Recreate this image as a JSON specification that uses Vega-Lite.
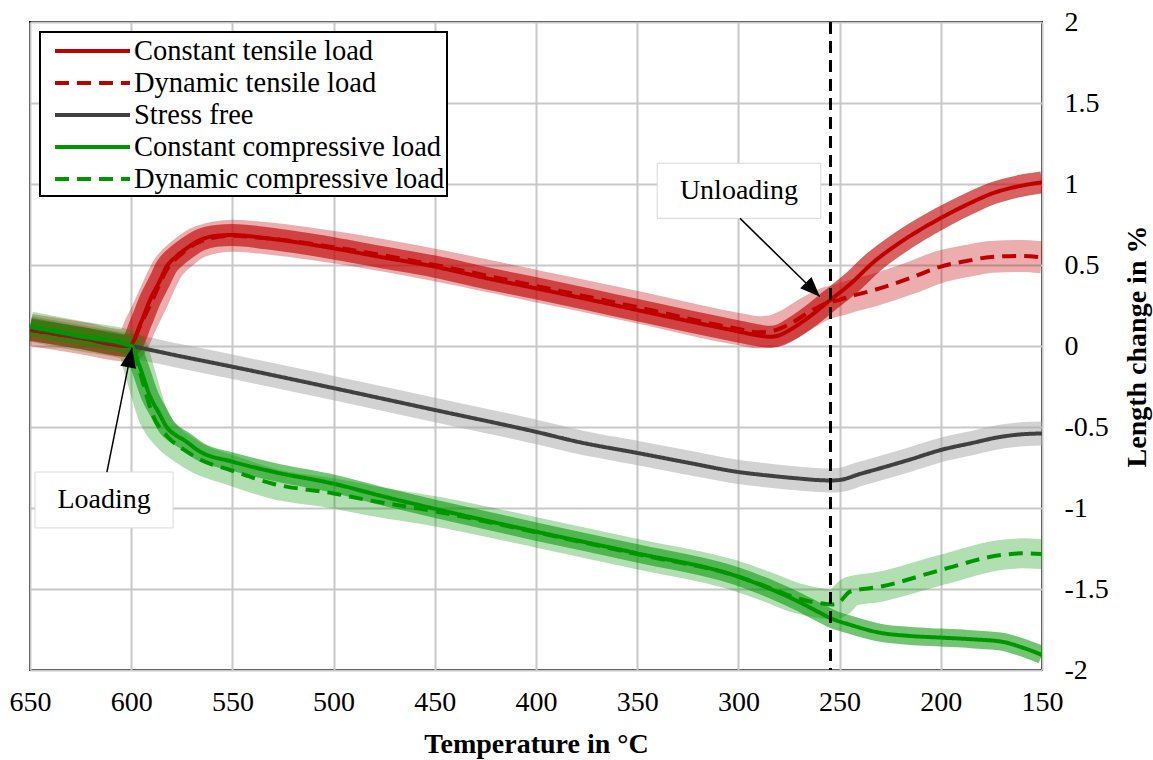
{
  "$schema": "https://vega.github.io/schema/vega-lite/v6.json",
  "width": 1012,
  "height": 648,
  "autosize": {"type": "none"},
  "padding": {"left": 30, "top": 22, "right": 111, "bottom": 90},
  "background": "white",
  "config": {
    "view": {"stroke": "black", "strokeWidth": 2},
    "font": "Liberation Serif, Times New Roman, serif",
    "axis": {"grid": true, "gridColor": "#c8c8c8", "gridWidth": 2, "domain": false, "ticks": false, "labelFlush": false, "labelOverlap": false,
      "labelFont": "Liberation Serif, Times New Roman, serif", "labelFontSize": 28, "labelColor": "black",
      "titleFont": "Liberation Serif, Times New Roman, serif", "titleFontSize": 28, "titleFontWeight": "bold", "titleColor": "black"},
    "legend": {"orient": "none", "legendX": 10, "legendY": 10, "symbolType": "M-0.267,0 L4.733,0", "symbolSize": 900,
      "symbolStrokeWidth": 4, "labelFont": "Liberation Serif, Times New Roman, serif", "labelFontSize": 28.5, "labelColor": "black",
      "labelOffset": 58, "labelLimit": 600, "rowPadding": 0, "padding": 2, "strokeColor": "black", "strokeWidth": 2, "fillColor": "white"}
  },
  "datasets": {
    "curves": [
      {"s": "Constant tensile load", "T": 650, "v": 0.10},
      {"s": "Constant tensile load", "T": 625, "v": 0.05},
      {"s": "Constant tensile load", "T": 601, "v": 0.0},
      {"s": "Constant tensile load", "T": 595, "v": 0.15},
      {"s": "Constant tensile load", "T": 590.7, "v": 0.284},
      {"s": "Constant tensile load", "T": 586, "v": 0.40},
      {"s": "Constant tensile load", "T": 582.5, "v": 0.49},
      {"s": "Constant tensile load", "T": 578, "v": 0.55},
      {"s": "Constant tensile load", "T": 574, "v": 0.59},
      {"s": "Constant tensile load", "T": 566, "v": 0.654},
      {"s": "Constant tensile load", "T": 558, "v": 0.68},
      {"s": "Constant tensile load", "T": 550, "v": 0.685},
      {"s": "Constant tensile load", "T": 533, "v": 0.665},
      {"s": "Constant tensile load", "T": 500, "v": 0.603},
      {"s": "Constant tensile load", "T": 477, "v": 0.55},
      {"s": "Constant tensile load", "T": 450, "v": 0.49},
      {"s": "Constant tensile load", "T": 425, "v": 0.42},
      {"s": "Constant tensile load", "T": 400, "v": 0.356},
      {"s": "Constant tensile load", "T": 375, "v": 0.29},
      {"s": "Constant tensile load", "T": 350, "v": 0.222},
      {"s": "Constant tensile load", "T": 325, "v": 0.155},
      {"s": "Constant tensile load", "T": 300, "v": 0.09},
      {"s": "Constant tensile load", "T": 290, "v": 0.065},
      {"s": "Constant tensile load", "T": 284, "v": 0.057},
      {"s": "Constant tensile load", "T": 279, "v": 0.07},
      {"s": "Constant tensile load", "T": 274.5, "v": 0.10},
      {"s": "Constant tensile load", "T": 265, "v": 0.18},
      {"s": "Constant tensile load", "T": 255, "v": 0.28},
      {"s": "Constant tensile load", "T": 245, "v": 0.38},
      {"s": "Constant tensile load", "T": 233, "v": 0.52},
      {"s": "Constant tensile load", "T": 220, "v": 0.64},
      {"s": "Constant tensile load", "T": 200, "v": 0.79},
      {"s": "Constant tensile load", "T": 185, "v": 0.885},
      {"s": "Constant tensile load", "T": 175, "v": 0.94},
      {"s": "Constant tensile load", "T": 160, "v": 0.99},
      {"s": "Constant tensile load", "T": 150, "v": 1.01},

      {"s": "Dynamic tensile load", "T": 650, "v": 0.10},
      {"s": "Dynamic tensile load", "T": 625, "v": 0.05},
      {"s": "Dynamic tensile load", "T": 601, "v": 0.0},
      {"s": "Dynamic tensile load", "T": 595, "v": 0.14},
      {"s": "Dynamic tensile load", "T": 590, "v": 0.27},
      {"s": "Dynamic tensile load", "T": 582, "v": 0.48},
      {"s": "Dynamic tensile load", "T": 574, "v": 0.58},
      {"s": "Dynamic tensile load", "T": 566, "v": 0.645},
      {"s": "Dynamic tensile load", "T": 550, "v": 0.68},
      {"s": "Dynamic tensile load", "T": 533, "v": 0.665},
      {"s": "Dynamic tensile load", "T": 500, "v": 0.61},
      {"s": "Dynamic tensile load", "T": 450, "v": 0.50},
      {"s": "Dynamic tensile load", "T": 400, "v": 0.37},
      {"s": "Dynamic tensile load", "T": 350, "v": 0.24},
      {"s": "Dynamic tensile load", "T": 300, "v": 0.105},
      {"s": "Dynamic tensile load", "T": 290, "v": 0.085},
      {"s": "Dynamic tensile load", "T": 284, "v": 0.09},
      {"s": "Dynamic tensile load", "T": 279, "v": 0.11},
      {"s": "Dynamic tensile load", "T": 274, "v": 0.14},
      {"s": "Dynamic tensile load", "T": 265, "v": 0.21},
      {"s": "Dynamic tensile load", "T": 259, "v": 0.25},
      {"s": "Dynamic tensile load", "T": 255, "v": 0.27},
      {"s": "Dynamic tensile load", "T": 250, "v": 0.285},
      {"s": "Dynamic tensile load", "T": 245, "v": 0.305},
      {"s": "Dynamic tensile load", "T": 233, "v": 0.345},
      {"s": "Dynamic tensile load", "T": 215, "v": 0.42},
      {"s": "Dynamic tensile load", "T": 200, "v": 0.49},
      {"s": "Dynamic tensile load", "T": 185, "v": 0.53},
      {"s": "Dynamic tensile load", "T": 175, "v": 0.55},
      {"s": "Dynamic tensile load", "T": 160, "v": 0.556},
      {"s": "Dynamic tensile load", "T": 150, "v": 0.547},

      {"s": "Stress free", "T": 650, "v": 0.11},
      {"s": "Stress free", "T": 625, "v": 0.055},
      {"s": "Stress free", "T": 600, "v": 0.0},
      {"s": "Stress free", "T": 575, "v": -0.065},
      {"s": "Stress free", "T": 550, "v": -0.128},
      {"s": "Stress free", "T": 500, "v": -0.26},
      {"s": "Stress free", "T": 450, "v": -0.395},
      {"s": "Stress free", "T": 400, "v": -0.53},
      {"s": "Stress free", "T": 378, "v": -0.595},
      {"s": "Stress free", "T": 350, "v": -0.66},
      {"s": "Stress free", "T": 325, "v": -0.72},
      {"s": "Stress free", "T": 301, "v": -0.776},
      {"s": "Stress free", "T": 285, "v": -0.80},
      {"s": "Stress free", "T": 271, "v": -0.817},
      {"s": "Stress free", "T": 260, "v": -0.828},
      {"s": "Stress free", "T": 254.5, "v": -0.83},
      {"s": "Stress free", "T": 250, "v": -0.827},
      {"s": "Stress free", "T": 240, "v": -0.79},
      {"s": "Stress free", "T": 230, "v": -0.755},
      {"s": "Stress free", "T": 215, "v": -0.70},
      {"s": "Stress free", "T": 200, "v": -0.642},
      {"s": "Stress free", "T": 185, "v": -0.60},
      {"s": "Stress free", "T": 170, "v": -0.56},
      {"s": "Stress free", "T": 160, "v": -0.545},
      {"s": "Stress free", "T": 150, "v": -0.54},

      {"s": "Constant compressive load", "T": 650, "v": 0.12},
      {"s": "Constant compressive load", "T": 625, "v": 0.06},
      {"s": "Constant compressive load", "T": 600, "v": 0.0},
      {"s": "Constant compressive load", "T": 596, "v": -0.12},
      {"s": "Constant compressive load", "T": 590.7, "v": -0.31},
      {"s": "Constant compressive load", "T": 586, "v": -0.42},
      {"s": "Constant compressive load", "T": 582.5, "v": -0.50},
      {"s": "Constant compressive load", "T": 578, "v": -0.55},
      {"s": "Constant compressive load", "T": 574, "v": -0.58},
      {"s": "Constant compressive load", "T": 566, "v": -0.652},
      {"s": "Constant compressive load", "T": 550, "v": -0.714},
      {"s": "Constant compressive load", "T": 530, "v": -0.776},
      {"s": "Constant compressive load", "T": 500, "v": -0.85},
      {"s": "Constant compressive load", "T": 475, "v": -0.93},
      {"s": "Constant compressive load", "T": 450, "v": -1.005},
      {"s": "Constant compressive load", "T": 400, "v": -1.146},
      {"s": "Constant compressive load", "T": 350, "v": -1.28},
      {"s": "Constant compressive load", "T": 301, "v": -1.42},
      {"s": "Constant compressive load", "T": 283, "v": -1.506},
      {"s": "Constant compressive load", "T": 270, "v": -1.58},
      {"s": "Constant compressive load", "T": 260, "v": -1.645},
      {"s": "Constant compressive load", "T": 254.5, "v": -1.68},
      {"s": "Constant compressive load", "T": 245, "v": -1.72},
      {"s": "Constant compressive load", "T": 230, "v": -1.77},
      {"s": "Constant compressive load", "T": 215, "v": -1.79},
      {"s": "Constant compressive load", "T": 200, "v": -1.80},
      {"s": "Constant compressive load", "T": 185, "v": -1.81},
      {"s": "Constant compressive load", "T": 170, "v": -1.825},
      {"s": "Constant compressive load", "T": 160, "v": -1.86},
      {"s": "Constant compressive load", "T": 150, "v": -1.907},

      {"s": "Dynamic compressive load", "T": 650, "v": 0.12},
      {"s": "Dynamic compressive load", "T": 625, "v": 0.06},
      {"s": "Dynamic compressive load", "T": 600, "v": 0.0},
      {"s": "Dynamic compressive load", "T": 596, "v": -0.15},
      {"s": "Dynamic compressive load", "T": 589, "v": -0.436},
      {"s": "Dynamic compressive load", "T": 582, "v": -0.56},
      {"s": "Dynamic compressive load", "T": 574, "v": -0.64},
      {"s": "Dynamic compressive load", "T": 566, "v": -0.70},
      {"s": "Dynamic compressive load", "T": 550, "v": -0.77},
      {"s": "Dynamic compressive load", "T": 530, "v": -0.85},
      {"s": "Dynamic compressive load", "T": 500, "v": -0.91},
      {"s": "Dynamic compressive load", "T": 483.6, "v": -0.95},
      {"s": "Dynamic compressive load", "T": 450, "v": -1.02},
      {"s": "Dynamic compressive load", "T": 400, "v": -1.15},
      {"s": "Dynamic compressive load", "T": 350, "v": -1.285},
      {"s": "Dynamic compressive load", "T": 301, "v": -1.42},
      {"s": "Dynamic compressive load", "T": 283, "v": -1.50},
      {"s": "Dynamic compressive load", "T": 271, "v": -1.557},
      {"s": "Dynamic compressive load", "T": 258, "v": -1.59},
      {"s": "Dynamic compressive load", "T": 253, "v": -1.595},
      {"s": "Dynamic compressive load", "T": 250, "v": -1.58},
      {"s": "Dynamic compressive load", "T": 247, "v": -1.54},
      {"s": "Dynamic compressive load", "T": 245, "v": -1.517},
      {"s": "Dynamic compressive load", "T": 230, "v": -1.486},
      {"s": "Dynamic compressive load", "T": 200, "v": -1.383},
      {"s": "Dynamic compressive load", "T": 170, "v": -1.29},
      {"s": "Dynamic compressive load", "T": 160, "v": -1.28},
      {"s": "Dynamic compressive load", "T": 150, "v": -1.284}
    ],
    "boxes": [
      {"label": "Loading", "x1": 647.5, "x2": 579.3, "y1": -0.778, "y2": -1.123, "tx": 613.4, "ty": -0.95},
      {"label": "Unloading", "x1": 340.1, "x2": 259.3, "y1": 1.128, "y2": 0.788, "tx": 299.7, "ty": 0.958}
    ],
    "arrows": [
      {"a": "Loading", "x1": 612, "y1": -0.778, "x2": 599.6, "y2": -0.01},
      {"a": "Unloading", "x1": 299.2, "y1": 0.788, "x2": 259.7, "y2": 0.304}
    ],
    "unload": [{"T": 254.5}]
  },
  "layer": [
    {
      "data": {"name": "curves"},
      "transform": [{"filter": "datum.s === 'Stress free'"}],
      "mark": {"type": "line", "stroke": "#a6a6a6", "strokeOpacity": 0.5, "strokeWidth": 24, "clip": true, "strokeJoin": "round", "interpolate": "monotone"},
      "encoding": {
        "x": {"field": "T", "type": "quantitative", "scale": {"domain": [150, 650], "reverse": true, "nice": false, "zero": false},
          "axis": {"orient": "bottom", "values": [650, 600, 550, 500, 450, 400, 350, 300, 250, 200, 150], "labelPadding": 18, "titlePadding": 14, "title": "Temperature in °C"}},
        "y": {"field": "v", "type": "quantitative", "scale": {"domain": [-2, 2], "nice": false, "zero": false},
          "axis": {"orient": "right", "values": [-2, -1.5, -1, -0.5, 0, 0.5, 1, 1.5, 2], "labelExpr": "'' + datum.value", "labelAlign": "left", "labelPadding": 22, "titleX": 95, "titleY": 324, "titleAngle": 270, "titleAlign": "center", "titleBaseline": "middle", "title": "Length change in %"}}
      }
    },
    {
      "data": {"name": "curves"},
      "transform": [{"filter": "datum.s === 'Constant tensile load'"}],
      "mark": {"type": "line", "stroke": "#c00000", "strokeOpacity": 0.62, "strokeWidth": 22, "clip": true, "strokeJoin": "round", "interpolate": "monotone"},
      "encoding": {
        "x": {"field": "T", "type": "quantitative", "scale": {"domain": [150, 650], "reverse": true, "nice": false, "zero": false}},
        "y": {"field": "v", "type": "quantitative", "scale": {"domain": [-2, 2], "nice": false, "zero": false}}
      }
    },
    {
      "data": {"name": "curves"},
      "transform": [{"filter": "datum.s === 'Dynamic tensile load'"}],
      "mark": {"type": "line", "stroke": "#c00000", "strokeOpacity": 0.32, "strokeWidth": 32, "clip": true, "strokeJoin": "round", "interpolate": "monotone"},
      "encoding": {
        "x": {"field": "T", "type": "quantitative", "scale": {"domain": [150, 650], "reverse": true, "nice": false, "zero": false}},
        "y": {"field": "v", "type": "quantitative", "scale": {"domain": [-2, 2], "nice": false, "zero": false}}
      }
    },
    {
      "data": {"name": "curves"},
      "transform": [{"filter": "datum.s === 'Constant compressive load'"}],
      "mark": {"type": "line", "stroke": "#009600", "strokeOpacity": 0.55, "strokeWidth": 18, "clip": true, "strokeJoin": "round", "interpolate": "monotone"},
      "encoding": {
        "x": {"field": "T", "type": "quantitative", "scale": {"domain": [150, 650], "reverse": true, "nice": false, "zero": false}},
        "y": {"field": "v", "type": "quantitative", "scale": {"domain": [-2, 2], "nice": false, "zero": false}}
      }
    },
    {
      "data": {"name": "curves"},
      "transform": [{"filter": "datum.s === 'Dynamic compressive load'"}],
      "mark": {"type": "line", "stroke": "#009600", "strokeOpacity": 0.3, "strokeWidth": 30, "clip": true, "strokeJoin": "round", "interpolate": "monotone"},
      "encoding": {
        "x": {"field": "T", "type": "quantitative", "scale": {"domain": [150, 650], "reverse": true, "nice": false, "zero": false}},
        "y": {"field": "v", "type": "quantitative", "scale": {"domain": [-2, 2], "nice": false, "zero": false}}
      }
    },
    {
      "data": {"name": "curves"},
      "mark": {"type": "line", "strokeWidth": 4, "clip": true, "interpolate": "monotone"},
      "encoding": {
        "x": {"field": "T", "type": "quantitative", "scale": {"domain": [150, 650], "reverse": true, "nice": false, "zero": false}},
        "y": {"field": "v", "type": "quantitative", "scale": {"domain": [-2, 2], "nice": false, "zero": false}},
        "color": {"field": "s", "type": "nominal",
          "scale": {"domain": ["Constant tensile load", "Dynamic tensile load", "Stress free", "Constant compressive load", "Dynamic compressive load"],
            "range": ["#c00000", "#c00000", "#404040", "#009600", "#009600"]},
          "legend": {"title": null}},
        "strokeDash": {"field": "s", "type": "nominal",
          "scale": {"domain": ["Constant tensile load", "Dynamic tensile load", "Stress free", "Constant compressive load", "Dynamic compressive load"],
            "range": [[1, 0], [14, 8], [1, 0], [1, 0], [14, 8]]},
          "legend": {"title": null}}
      }
    },
    {
      "data": {"name": "unload"},
      "mark": {"type": "rule", "color": "black", "strokeWidth": 3, "strokeDash": [12, 7]},
      "encoding": {
        "x": {"field": "T", "type": "quantitative", "scale": {"domain": [150, 650], "reverse": true, "nice": false, "zero": false}}
      }
    },
    {
      "data": {"name": "boxes"},
      "mark": {"type": "rect", "fill": "white", "stroke": "#d9d9d9", "strokeWidth": 1},
      "encoding": {
        "x": {"field": "x1", "type": "quantitative", "scale": {"domain": [150, 650], "reverse": true, "nice": false, "zero": false}},
        "x2": {"field": "x2"},
        "y": {"field": "y1", "type": "quantitative", "scale": {"domain": [-2, 2], "nice": false, "zero": false}},
        "y2": {"field": "y2"}
      }
    },
    {
      "data": {"name": "boxes"},
      "mark": {"type": "text", "font": "Liberation Serif, Times New Roman, serif", "fontSize": 28, "color": "black", "align": "center", "baseline": "middle"},
      "encoding": {
        "x": {"field": "tx", "type": "quantitative", "scale": {"domain": [150, 650], "reverse": true, "nice": false, "zero": false}},
        "y": {"field": "ty", "type": "quantitative", "scale": {"domain": [-2, 2], "nice": false, "zero": false}},
        "text": {"field": "label"}
      }
    },
    {
      "data": {"name": "arrows"},
      "mark": {"type": "rule", "color": "black", "strokeWidth": 1.5},
      "encoding": {
        "x": {"field": "x1", "type": "quantitative", "scale": {"domain": [150, 650], "reverse": true, "nice": false, "zero": false}},
        "x2": {"field": "x2"},
        "y": {"field": "y1", "type": "quantitative", "scale": {"domain": [-2, 2], "nice": false, "zero": false}},
        "y2": {"field": "y2"}
      }
    },
    {
      "data": {"name": "arrows"},
      "transform": [{"filter": "datum.a === 'Loading'"}],
      "mark": {"type": "point", "shape": "M0,0 L-0.4,1 L0.4,1 Z", "filled": true, "color": "black", "opacity": 1, "size": 1600, "angle": 11},
      "encoding": {
        "x": {"field": "x2", "type": "quantitative", "scale": {"domain": [150, 650], "reverse": true, "nice": false, "zero": false}},
        "y": {"field": "y2", "type": "quantitative", "scale": {"domain": [-2, 2], "nice": false, "zero": false}}
      }
    },
    {
      "data": {"name": "arrows"},
      "transform": [{"filter": "datum.a === 'Unloading'"}],
      "mark": {"type": "point", "shape": "M0,0 L-0.4,1 L0.4,1 Z", "filled": true, "color": "black", "opacity": 1, "size": 1600, "angle": 135},
      "encoding": {
        "x": {"field": "x2", "type": "quantitative", "scale": {"domain": [150, 650], "reverse": true, "nice": false, "zero": false}},
        "y": {"field": "y2", "type": "quantitative", "scale": {"domain": [-2, 2], "nice": false, "zero": false}}
      }
    }
  ]
}
